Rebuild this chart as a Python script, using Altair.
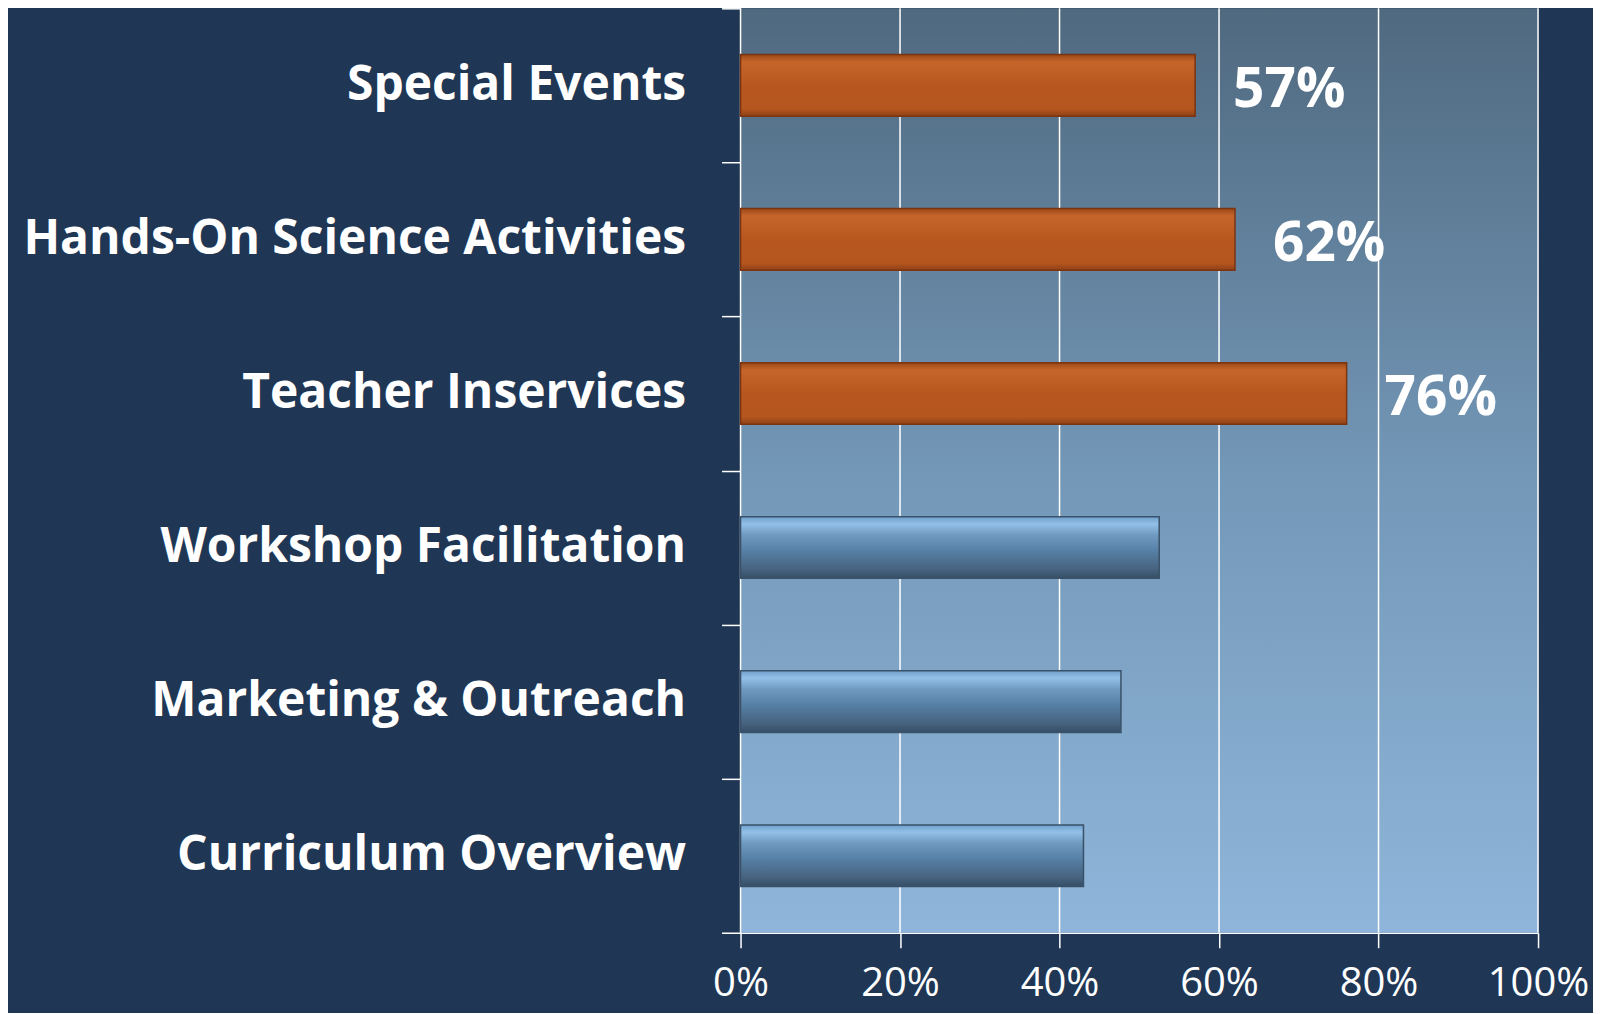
import altair as alt
import pandas as pd

categories = ["Special Events", "Hands-On Science Activities", "Teacher Inservices",
              "Workshop Facilitation", "Marketing & Outreach", "Curriculum Overview"]
values = [0.57, 0.62, 0.76, 0.525, 0.477, 0.43]
groups = ["orange", "orange", "orange", "blue", "blue", "blue"]
labels = ["57%", "62%", "76%", "", "", ""]
x_ticks = [0, 0.2, 0.4, 0.6, 0.8, 1.0]

df = pd.DataFrame({"category": categories, "value": values, "group": groups, "label": labels})
grid_df = pd.DataFrame({"value": x_ticks})
area_df = pd.DataFrame({"value": [x_ticks[0]], "end": [x_ticks[-1]]})

orange_grad = {
    "gradient": "linear", "x1": 0, "y1": 0, "x2": 0, "y2": 1,
    "stops": [
        {"offset": 0.0, "color": "#9c4716"},
        {"offset": 0.12, "color": "#c6652b"},
        {"offset": 0.5, "color": "#b7571f"},
        {"offset": 0.88, "color": "#b5561f"},
        {"offset": 1.0, "color": "#8f4116"},
    ],
}
blue_grad = {
    "gradient": "linear", "x1": 0, "y1": 0, "x2": 0, "y2": 1,
    "stops": [
        {"offset": 0.0, "color": "#6f9fcb"},
        {"offset": 0.12, "color": "#92c0e8"},
        {"offset": 0.3, "color": "#6f99bf"},
        {"offset": 0.55, "color": "#5680a6"},
        {"offset": 0.85, "color": "#47637f"},
        {"offset": 1.0, "color": "#354e67"},
    ],
}
view_grad = {
    "gradient": "linear", "x1": 0, "y1": 0, "x2": 0, "y2": 1,
    "stops": [
        {"offset": 0.0, "color": "#4f697f"},
        {"offset": 0.5, "color": "#7397b7"},
        {"offset": 1.0, "color": "#8fb6da"},
    ],
}

y_enc = alt.Y(
    "category:N", sort=categories, title=None,
    scale=alt.Scale(paddingInner=0, paddingOuter=0),
    axis=alt.Axis(
        tickBand="extent", tickSize=19, tickColor="white", tickWidth=1.5,
        domainColor="white", domainWidth=1.5,
        labelColor="white", labelFont="Open Sans", labelFontWeight="bold",
        labelFontSize=48, labelPadding=36, labelLimit=900, grid=False,
    ),
)
x_scale = alt.Scale(domain=[0, 1], nice=False)
x_axis = alt.Axis(
    values=x_ticks, format=".0%", tickSize=15, tickColor="white", tickWidth=1.5,
    domainColor="white", domainWidth=1.5, grid=False,
    labelColor="white", labelFont="Open Sans", labelFontSize=40, labelPadding=16,
    labelFlush=False,
)
x_enc = alt.X("value:Q", title=None, scale=x_scale, axis=x_axis)

plot_bg = alt.Chart(area_df).mark_rect(color=view_grad).encode(
    x=x_enc, x2="end:Q"
)

grid = alt.Chart(grid_df).mark_rule(color="white", strokeWidth=1.5).encode(x=x_enc)

base = alt.Chart(df)

orange_bars = base.transform_filter(alt.datum.group == "orange").mark_bar(
    color=orange_grad, stroke="#7a3410", strokeWidth=1.5, height={"band": 0.4}
).encode(x=x_enc, y=y_enc)

blue_bars = base.transform_filter(alt.datum.group == "blue").mark_bar(
    color=blue_grad, stroke="#3a5269", strokeWidth=1.5, height={"band": 0.4}
).encode(x=x_enc, y=y_enc)

text = base.transform_filter(alt.datum.label != "").mark_text(
    align="left", baseline="middle", dx=38, dy=5, color="white",
    font="Open Sans", fontWeight="bold", fontSize=55
).encode(x=x_enc, y=y_enc, text="label:N")

chart = alt.layer(plot_bg, grid, orange_bars, blue_bars, text).properties(
    width=798, height=925,
    autosize=alt.AutoSizeParams(type="none"),
    padding={"left": 733, "top": 0, "right": 55, "bottom": 80},
    background="#1f3755",
).configure_view(stroke=None)

chart.save("out.html", embed_options={"renderer": "svg", "actions": False})
